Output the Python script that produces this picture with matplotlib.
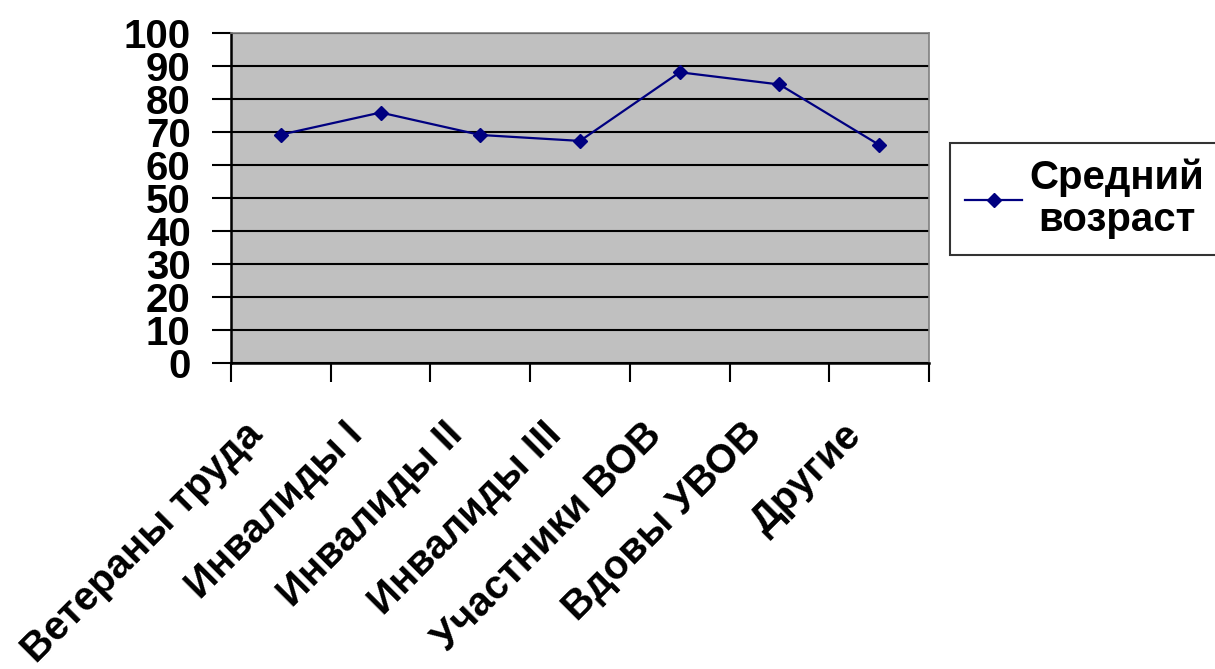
import matplotlib
matplotlib.use("Agg")
import matplotlib.pyplot as plt
import matplotlib.transforms as mtransforms
from matplotlib.ticker import FixedLocator

categories = ["Ветераны труда", "Инвалиды I", "Инвалиды II", "Инвалиды III",
              "Участники ВОВ", "Вдовы УВОВ", "Другие"]
avg_age = [69.2, 75.9, 69.1, 67.3, 88.1, 84.4, 66.1]
y_ticks = [0, 10, 20, 30, 40, 50, 60, 70, 80, 90, 100]
series_label = "Средний\nвозраст"

plt.rcParams['font.family'] = ['Liberation Sans', 'DejaVu Sans']

W, H = 1215, 669
fig = plt.figure(figsize=(W / 100, H / 100), dpi=100)
ax = fig.add_axes([231 / W, 1 - 363 / H, (929 - 231) / W, (363 - 33) / H])
ax.set_facecolor('#C0C0C0')

n = len(categories)
xs = [i + 0.5 for i in range(n)]
ax.plot(xs, avg_age, color='#000080', lw=1.6, marker='D', ms=7,
        markerfacecolor='#000080', markeredgecolor='#000080', label=series_label)

ax.set_xlim(0, n)
ax.set_ylim(0, 100)
ax.set_yticks(y_ticks)
ax.yaxis.grid(True, color='black', lw=1.5)
ax.set_axisbelow(True)

ax.xaxis.set_major_locator(FixedLocator(list(range(n + 1))))
ax.xaxis.set_major_formatter(plt.NullFormatter())
ax.tick_params(axis='x', which='major', length=14, width=1.5, direction='out', color='black')
ax.tick_params(axis='y', length=14, width=1.5, direction='out', pad=15)

for lab in ax.get_yticklabels():
    lab.set_fontsize(29)
    lab.set_fontweight('bold')

# category labels, rotated 45 degrees, right end anchored below each category
base = mtransforms.blended_transform_factory(ax.transData, ax.transAxes)
off = mtransforms.ScaledTranslation(-24 / 100, -66 / 100, fig.dpi_scale_trans)
for x, name in zip(xs, categories):
    ax.text(x, 0, name, transform=base + off, rotation=45, rotation_mode='anchor',
            ha='right', va='center', fontsize=29, fontweight='bold', clip_on=False)

for s in ['left', 'bottom']:
    ax.spines[s].set_color('black')
    ax.spines[s].set_linewidth(1.8)
for s in ['top', 'right']:
    ax.spines[s].set_color('#808080')
    ax.spines[s].set_linewidth(1.2)

leg = fig.legend(loc='upper left', bbox_to_anchor=(950 / W, 1 - 143 / H),
                 frameon=True, fancybox=False, edgecolor='black',
                 prop={'size': 29, 'weight': 'bold'}, handlelength=1.4,
                 borderpad=0.38, handletextpad=0.2, borderaxespad=0,
                 labelspacing=0.2)
leg.get_frame().set_linewidth(1.5)
for t in leg.get_texts():
    t.set_multialignment('center')
    t.set_linespacing(1.15)

fig.savefig('out.png', dpi=100)
